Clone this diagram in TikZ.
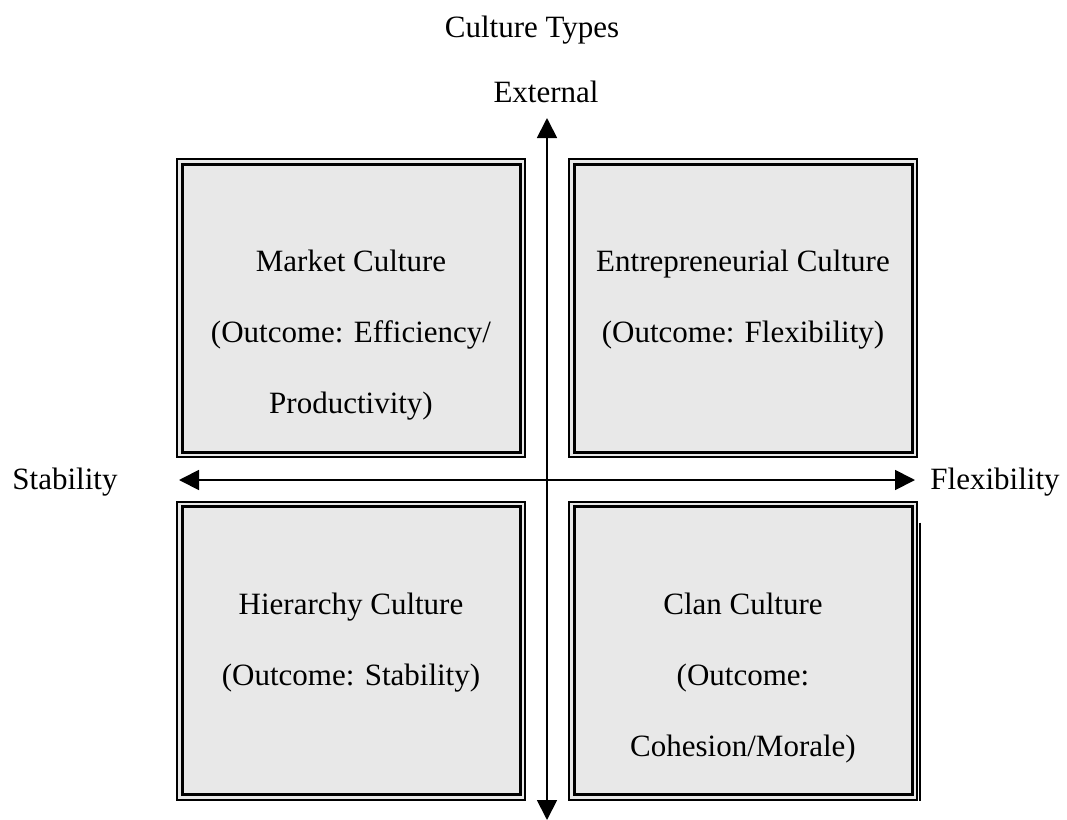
\documentclass[tikz,border=0pt]{standalone}
\usepackage{fontspec}
\setmainfont{Liberation Serif}
\usetikzlibrary{positioning,arrows.meta}
\definecolor{boxgray}{HTML}{E8E8E8}
\tikzset{
  cbox/.style={draw,line width=1pt,fill=boxgray,minimum width=174pt,minimum height=149pt,inner sep=0pt},
  ctext/.style={align=center,inner sep=0pt,font=\fontsize{15.5}{35.5}\selectfont},
  label/.style={inner sep=0pt,font=\fontsize{15.5}{18}\selectfont},
  axis/.style={line width=0.9pt,{Triangle[length=10pt,width=10pt]}-{Triangle[length=10pt,width=10pt]}}
}

\begin{document}
\begin{tikzpicture}[x=0.5pt,y=-0.5pt,node distance=46pt]
\useasboundingbox (0,0) rectangle (1067,820);
\node[label] (title) at (532,30) {Culture Types};
\node[label] (ext) at (546,92) {External};
\node[label] (stab) at (65,482) {Stability};
\node[label] (flex) at (995,482) {Flexibility};
\node[cbox] (mkt) at (351,308) {};
\node[cbox] (ent) at (743,308) {};
\node[cbox] (hie) at (351,650.5) {};
\node[cbox] (cla) at (743,650.5) {};
\foreach \b in {mkt,ent,hie,cla}
  \draw[line width=1.5pt] ([shift={(3pt,-3pt)}]\b.north west) rectangle ([shift={(-3pt,3pt)}]\b.south east);
\draw[line width=1pt] ([shift={(1pt,-11pt)}]cla.north east) -- ([shift={(1pt,0pt)}]cla.south east);
\node[ctext,below=of mkt.north] (mkt-t) {Market Culture\\(Outcome: Efficiency/\\Productivity)};
\node[ctext,below=of ent.north] (ent-t) {Entrepreneurial Culture\\(Outcome: Flexibility)};
\node[ctext,below=of hie.north] (hie-t) {Hierarchy Culture\\(Outcome: Stability)};
\node[ctext,below=of cla.north] (cla-t) {Clan Culture\\(Outcome:\\Cohesion/Morale)};
% axes
\coordinate (up) at (547,118);
\coordinate (down) at (547,820);
\coordinate (left) at (179,480);
\coordinate (right) at (915,480);
\draw[axis] (down) -- (up);
\draw[axis] (left) -- (right);
\end{tikzpicture}
\end{document}
